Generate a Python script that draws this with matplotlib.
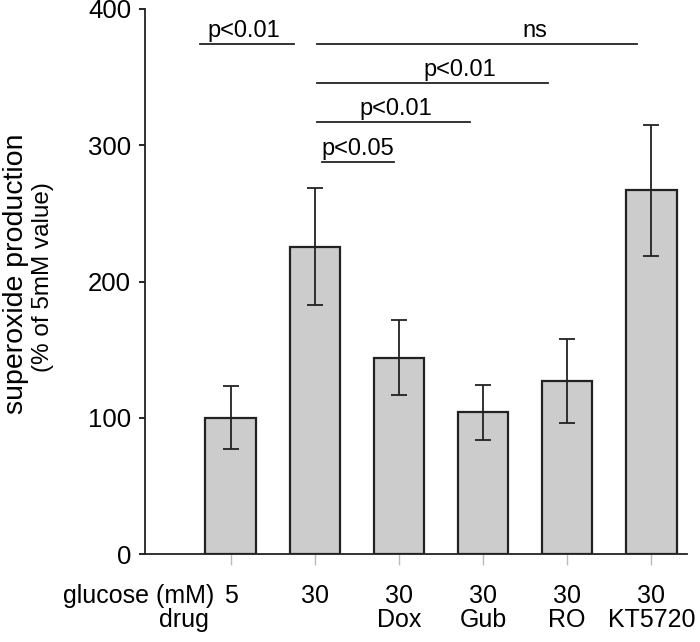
import matplotlib.pyplot as plt
from matplotlib.transforms import blended_transform_factory

plt.rcParams['font.family'] = ['Liberation Sans', 'DejaVu Sans']

# data
glucose = ['5', '30', '30', '30', '30', '30']
drugs = ['', '', 'Dox', 'Gub', 'RO', 'KT5720']
values = [100, 225.5, 144, 104, 127, 267]
errors = [23, 43, 27.5, 20, 30.5, 48]

# significance brackets: (x start, x end, y, label, label x)
brackets = [
    (-0.36, 0.755, 374, 'p<0.01', 0.16),
    (1.02, 4.83, 374, 'ns', 3.61),
    (1.02, 3.77, 346, 'p<0.01', 2.72),
    (1.02, 2.85, 317, 'p<0.01', 1.96),
    (1.08, 1.94, 288, 'p<0.05', 1.51),
]

fig = plt.figure(figsize=(7, 6.42), dpi=100)
ax = fig.add_axes([0.207, 0.137, 0.774, 0.849])

pos = list(range(len(values)))
ax.bar(pos, values, width=0.6, color='#cccccc', edgecolor='#222222',
       linewidth=1.6, zorder=2)
ax.errorbar(pos, values, yerr=errors, fmt='none', ecolor='#222222',
            elinewidth=1.3, capsize=6, capthick=1.3, zorder=3)

for x0, x1, y, label, lx in brackets:
    ax.plot([x0, x1], [y, y], color='#222222', lw=1.3, clip_on=False)
    ax.text(lx, y + 1.5, label, ha='center', va='bottom', fontsize=17)

ax.set_xlim(-1.02, 5.42)
ax.set_ylim(0, 400)
ax.set_yticks([0, 100, 200, 300, 400])
ax.set_xticks(pos)
ax.set_xticklabels([])
ax.tick_params(axis='y', labelsize=18.5, length=4, width=1.2, pad=6)
ax.tick_params(axis='x', length=8, width=1, color='#bbbbbb')
for s in ['top', 'right']:
    ax.spines[s].set_visible(False)
for s in ['left', 'bottom']:
    ax.spines[s].set_linewidth(1.3)
    ax.spines[s].set_color('#222222')

# category labels under the axis
tr = blended_transform_factory(ax.transData, fig.transFigure)
for p, g, d in zip(pos, glucose, drugs):
    ax.text(p, 0.072, g, transform=tr, ha='center', va='center', fontsize=18)
    ax.text(p, 0.034, d, transform=tr, ha='center', va='center', fontsize=18)
ax.text(-0.19, 0.072, 'glucose (mM)', transform=tr, ha='right', va='center', fontsize=18)
ax.text(-0.56, 0.034, 'drug', transform=tr, ha='center', va='center', fontsize=18)

fig.text(0.023, 0.573, 'superoxide production', rotation=90,
         ha='center', va='center', fontsize=20.5)
fig.text(0.061, 0.568, '(% of 5mM value)', rotation=90,
         ha='center', va='center', fontsize=17.5)

fig.savefig('out.png', dpi=100)
